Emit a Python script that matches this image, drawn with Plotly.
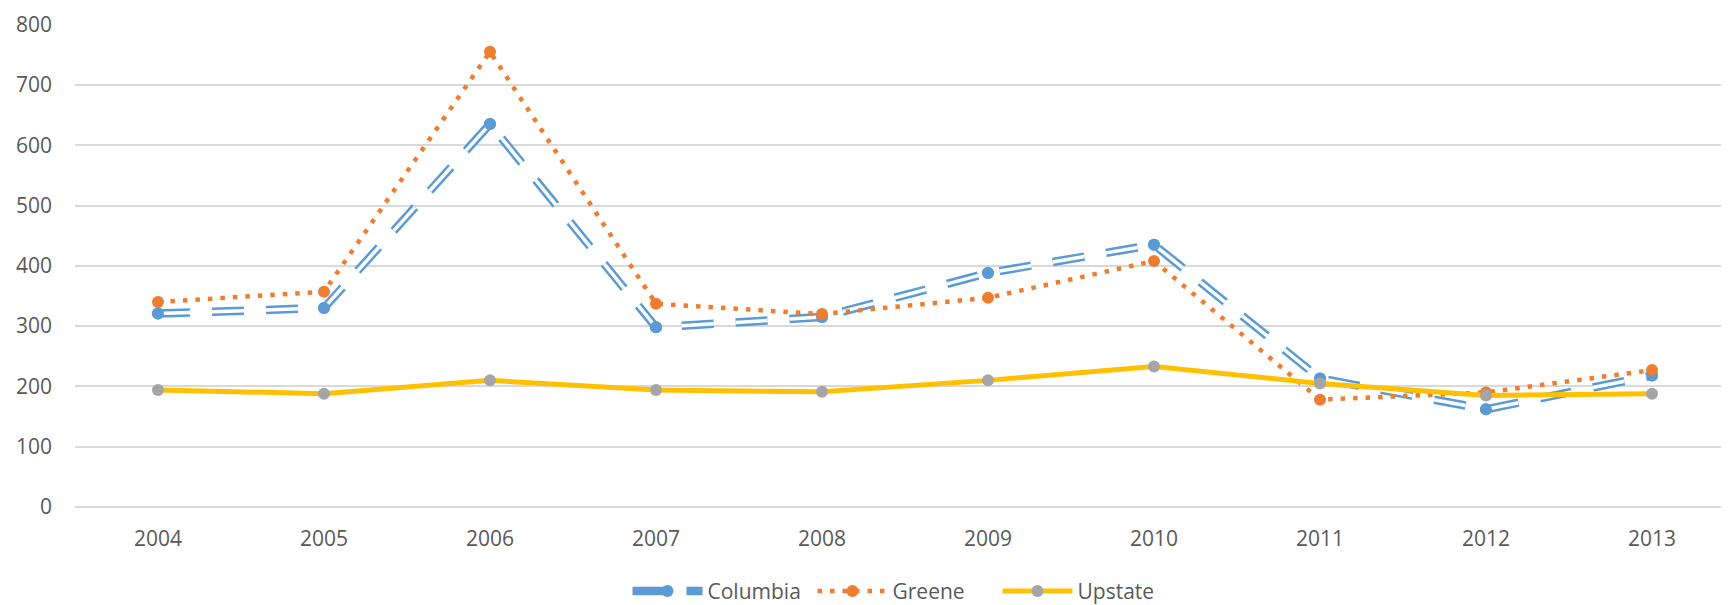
import plotly.graph_objects as go

YEARS = ["2004", "2005", "2006", "2007", "2008", "2009", "2010", "2011", "2012", "2013"]
COLUMBIA = [321, 330, 635, 298, 315, 388, 435, 213, 162, 218]
GREENE = [340, 357, 755, 337, 320, 347, 408, 178, 190, 227]
UPSTATE = [194, 188, 210, 194, 191, 210, 233, 205, 185, 188]

BLUE = "#5B9BD5"
ORANGE = "#ED7D31"
GOLD = "#FFC000"
GREY = "#A5A5A5"
TEXT = "#595959"
GRID = "#D9D9D9"
DASH = "32px,22px"

fig = go.Figure()

# Columbia: outlined long-dash line (blue wide stroke with a white core)
fig.add_trace(
    go.Scatter(
        x=YEARS,
        y=COLUMBIA,
        mode="lines+markers",
        name="Columbia",
        line={"color": BLUE, "width": 8.5, "dash": DASH},
        marker={"color": BLUE, "size": 12},
    )
)
fig.add_trace(
    go.Scatter(
        x=YEARS,
        y=COLUMBIA,
        mode="lines",
        line={"color": "white", "width": 3.5, "dash": DASH},
        hoverinfo="skip",
        showlegend=False,
    )
)
fig.add_trace(
    go.Scatter(
        x=YEARS,
        y=COLUMBIA,
        mode="markers",
        marker={"color": BLUE, "size": 12},
        hoverinfo="skip",
        showlegend=False,
    )
)
fig.add_trace(
    go.Scatter(
        x=YEARS,
        y=GREENE,
        mode="lines+markers",
        name="Greene",
        line={"color": ORANGE, "width": 4.5, "dash": "4.5px,8px"},
        marker={"color": ORANGE, "size": 12},
    )
)
fig.add_trace(
    go.Scatter(
        x=YEARS,
        y=UPSTATE,
        mode="lines+markers",
        name="Upstate",
        line={"color": GOLD, "width": 5},
        marker={"color": GREY, "size": 12},
    )
)

fig.update_layout(
    width=1729,
    height=605,
    margin={"l": 67, "r": 2, "t": 16, "b": 105},
    paper_bgcolor="white",
    plot_bgcolor="white",
    font={"family": "Open Sans, Arial", "color": TEXT, "size": 21},
    xaxis={
        "type": "category",
        "range": [-0.5, 9.5],
        "showgrid": False,
        "showline": False,
        "ticks": "",
        "tickfont": {"size": 21, "color": TEXT},
        "ticklabelstandoff": 17,
    },
    yaxis={
        "range": [0, 801],
        "tickvals": [0, 100, 200, 300, 400, 500, 600, 700, 800],
        "gridcolor": GRID,
        "gridwidth": 1.5,
        "zeroline": True,
        "zerolinecolor": GRID,
        "zerolinewidth": 1.5,
        "ticks": "",
        "tickfont": {"size": 21, "color": TEXT},
        "ticklabelstandoff": 22,
        "ticklabeloverflow": "allow",
        "automargin": False,
    },
    legend={
        "orientation": "h",
        "x": 0.5,
        "xanchor": "center",
        "y": -0.13,
        "yanchor": "top",
        "font": {"size": 21, "color": TEXT},
        "itemwidth": 70,
        "entrywidth": 100,
    },
)

fig.write_html("out.html")
